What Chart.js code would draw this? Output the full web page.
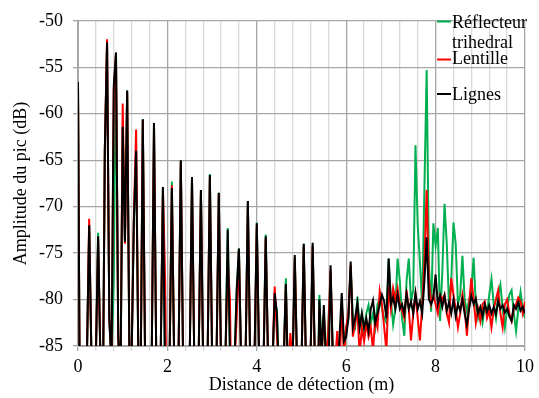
<!DOCTYPE html>
<html>
<head>
<meta charset="utf-8">
<script src="https://cdn.jsdelivr.net/npm/chart.js@4.4.1/dist/chart.umd.min.js"></script>
<style>
  html, body { margin: 0; padding: 0; background: #fff; }
  #chart { display: block; }
</style>
</head>
<body>
<canvas id="chart" width="539" height="398"></canvas>
<script>
// Sampling step of the distance axis (m)
const STEP = 0.05;

// Peak amplitude (dB), one value per 0.05 m from 0 to 10 m
const reflecteur = [
  -56.6, -100, -100, -100, -86, -72, -86, -100, -86, -72.8, -86, -95, -64, -52.5, -82, -87, -78, -53.6, -84, -89,
  -61.4, -73.8, -57.5, -86, -86, -71.5, -64, -86, -89, -60.6, -86, -100, -100, -86, -61, -86, -100, -86, -68, -89,
  -100, -86, -67.3, -86, -100, -86, -65.1, -86, -100, -89, -86, -66.8, -86, -100, -86, -68.2, -87, -100, -86, -66.5,
  -86, -100, -86, -68.5, -87, -100, -86, -72.3, -86, -100, -87, -79, -74.5, -87, -100, -86, -69.4, -86, -100, -86,
  -71.7, -86, -100, -87, -73, -86, -100, -87, -80, -81.2, -89, -100, -87, -77.7, -89, -95, -87, -75.5, -87, -100,
  -87, -74, -87, -100, -87, -74.3, -87, -95, -79.5, -86, -81.5, -87, -82.7, -77, -86, -87, -86, -86, -80.5, -85,
  -83, -82, -76.5, -82.5, -83, -79.7, -83, -81.5, -83.5, -81.5, -80.6, -82.5, -81.5, -83, -80.5, -79.9, -81, -82, -82.5, -75.6,
  -80, -82.7, -81, -75.6, -78, -82, -83.9, -78, -75.6, -80.2, -79, -63.4, -72, -76, -80.6, -68, -55.3, -76, -81.3, -71.8,
  -74.2, -72.3, -82.3, -77, -69.7, -74, -80.6, -78, -71.7, -74, -80.5, -79.5, -75.3, -80, -81.3, -80, -79, -75.5, -80.5, -82,
  -81, -82.5, -80.8, -81.5, -79.5, -77.8, -80.5, -82, -79.5, -78.4, -81, -83, -81, -79.5, -79, -81.5, -83.4, -81, -79.2, -81,
  -82
];

const lentille = [
  -56.6, -100, -100, -100, -86, -71.3, -86, -100, -86, -73.5, -86, -95, -64, -52, -82, -87, -57.5, -53.6, -84, -89,
  -58.9, -74, -57.8, -86, -86, -71, -61.7, -86, -89, -60.7, -86, -100, -100, -86, -61.1, -86, -100, -86, -68, -78,
  -100, -86, -67.7, -86, -100, -86, -65.2, -86, -100, -89, -86, -67, -86, -100, -86, -68.4, -87, -100, -86, -66.8,
  -86, -100, -86, -68.6, -87, -100, -86, -75.9, -80, -100, -87, -82, -74.7, -87, -100, -86, -69.6, -86, -100, -86,
  -72, -86, -100, -87, -73.4, -86, -100, -87, -78.6, -83.7, -89, -100, -87, -78.5, -89, -83.6, -87, -75.5, -87, -100,
  -87, -74.3, -87, -100, -87, -74.2, -87, -95, -81, -86, -81.5, -87, -83.4, -76.8, -86, -87, -83.4, -88, -80, -86,
  -83, -81.4, -76.3, -84, -82.5, -81, -86, -83, -84.5, -82.5, -84, -83, -85.5, -82, -83, -79.1, -80.5, -83, -85.5, -78.5,
  -81, -78.8, -80, -78.8, -80.5, -81.2, -82, -79, -81, -84.4, -81.5, -79.5, -82, -84.4, -80.5, -76, -68.2, -78, -80.5, -79.6,
  -80.5, -81.5, -79.5, -80, -79.5, -81.5, -82.5, -77.7, -79.5, -81, -83, -81.5, -79.5, -81, -83.9, -80.5, -77.7, -80, -82.5, -81,
  -82.3, -80.5, -80.2, -82, -81.2, -83, -81, -80, -79, -81.5, -83, -80.5, -80, -81.5, -82.3, -81, -80.5, -79.8, -80.2, -81.5,
  -80.2
];

const lignes = [
  -56.6, -100, -100, -100, -86, -72, -86, -100, -86, -73.2, -86, -95, -64, -52.3, -82, -87, -57, -53.4, -84, -89,
  -61.4, -73.8, -57.5, -86, -86, -71.5, -64, -86, -89, -60.6, -86, -100, -100, -86, -61, -86, -100, -86, -67.9, -89,
  -100, -86, -68, -86, -100, -86, -65, -86, -100, -89, -86, -66.8, -86, -100, -86, -68.2, -87, -100, -86, -66.6,
  -86, -100, -86, -68.5, -87, -100, -86, -72.5, -86, -100, -87, -79, -74.5, -87, -100, -86, -69.4, -86, -100, -86,
  -71.8, -86, -100, -87, -73.2, -86, -100, -87, -79.3, -81.5, -89, -100, -87, -78.3, -89, -95, -87, -75.2, -87, -100,
  -87, -74, -87, -100, -87, -73.9, -87, -95, -80, -86, -80.6, -87, -89, -76.3, -86, -87, -88, -84, -79.3, -84.5,
  -84, -82, -75.9, -83, -82, -80.4, -83, -81.5, -83, -82, -83.4, -81, -80.1, -82.5, -81.5, -80.5, -79.5, -80.2, -82, -75.6,
  -80.5, -79.8, -81, -79.5, -81, -80.5, -81.5, -79.4, -81, -80.2, -81.5, -79.3, -81, -80.2, -81.5, -78, -73.3, -80, -80.5, -79.8,
  -77.3, -80.5, -79.6, -80.8, -79.6, -81.2, -80.3, -81.5, -80, -81.8, -80.5, -81.2, -80, -81.5, -82.7, -81, -79.6, -80.5, -79.9, -81.5,
  -80.8, -81.8, -80.5, -81.3, -80.6, -81.5, -80.8, -81.6, -80.2, -81, -80.6, -81.4, -81, -81.8, -82.3, -80.6, -81, -80.3, -81.2, -80.8,
  -81.5
];

const seriesLabels = [['Réflecteur', 'trihedral'], ['Lentille'], ['Lignes']];
const seriesColors = ['#00b050', '#ff0000', '#000000'];
const yMin = -85, yMax = -50, yStep = 5;
const xMin = 0, xMax = 10, xGridStep = 0.4, xLabelStep = 2;

const FONT = 'Liberation Serif';

function toPoints(values) {
  return values.map((v, i) => ({ x: +(i * STEP).toFixed(2), y: v }));
}

function isMajor(v) {
  const r = v / xLabelStep;
  return Math.abs(r - Math.round(r)) < 1e-6;
}

// Legend drawn inside the plot, top right, like the original
const insideLegend = {
  id: 'insideLegend',
  afterDraw(chart) {
    const ctx = chart.ctx;
    const rows = [
      { lineY: 21.5, textY: [28, 48] },
      { lineY: 59.5, textY: [64] },
      { lineY: 94, textY: [99.5] }
    ];
    ctx.save();
    ctx.font = '18px "' + FONT + '"';
    ctx.textAlign = 'left';
    ctx.textBaseline = 'alphabetic';
    rows.forEach((row, k) => {
      ctx.strokeStyle = seriesColors[k];
      ctx.lineWidth = 2;
      ctx.beginPath();
      ctx.moveTo(437, row.lineY);
      ctx.lineTo(451, row.lineY);
      ctx.stroke();
      ctx.fillStyle = '#000';
      seriesLabels[k].forEach((txt, j) => ctx.fillText(txt, 452, row.textY[j]));
    });
    ctx.restore();
  }
};

new Chart(document.getElementById('chart'), {
  type: 'line',
  data: {
    datasets: [
      { label: seriesLabels[0].join(' '), data: toPoints(reflecteur), borderColor: seriesColors[0], order: 2 },
      { label: seriesLabels[1][0], data: toPoints(lentille), borderColor: seriesColors[1], order: 1 },
      { label: seriesLabels[2][0], data: toPoints(lignes), borderColor: seriesColors[2], order: 0 }
    ]
  },
  options: {
    responsive: false,
    animation: false,
    devicePixelRatio: 1,
    elements: {
      line: { borderWidth: 2, tension: 0 },
      point: { radius: 0 }
    },
    layout: { padding: { left: 0, right: 9, top: 14, bottom: 0 } },
    plugins: {
      legend: { display: false },
      tooltip: { enabled: false }
    },
    scales: {
      x: {
        type: 'linear',
        min: xMin,
        max: xMax,
        ticks: {
          stepSize: xGridStep,
          autoSkip: false,
          maxRotation: 0,
          color: '#000',
          padding: 5,
          font: { family: FONT, size: 18 },
          callback: v => isMajor(v) ? String(Math.round(v)) : ''
        },
        grid: {
          color: c => isMajor(c.tick.value) ? '#a6a6a6' : '#d9d9d9',
          lineWidth: 1.3,
          tickLength: 5
        },
        border: { color: '#a6a6a6' },
        title: {
          display: true,
          text: 'Distance de détection (m)',
          color: '#000',
          font: { family: FONT, size: 18 },
          padding: { top: 0, bottom: 2 }
        },
        afterFit(scale) { scale.height = 52; }
      },
      y: {
        min: yMin,
        max: yMax,
        ticks: {
          stepSize: yStep,
          color: '#000',
          padding: 10,
          font: { family: FONT, size: 18 }
        },
        grid: { color: '#a6a6a6', lineWidth: 1.3, tickLength: 5 },
        border: { color: '#a6a6a6' },
        title: {
          display: true,
          text: 'Amplitude du pic (dB)',
          color: '#000',
          font: { family: FONT, size: 18 },
          padding: { top: 10, bottom: 0 }
        },
        afterFit(scale) { scale.width = 78; }
      }
    }
  },
  plugins: [insideLegend]
});
</script>
</body>
</html>
